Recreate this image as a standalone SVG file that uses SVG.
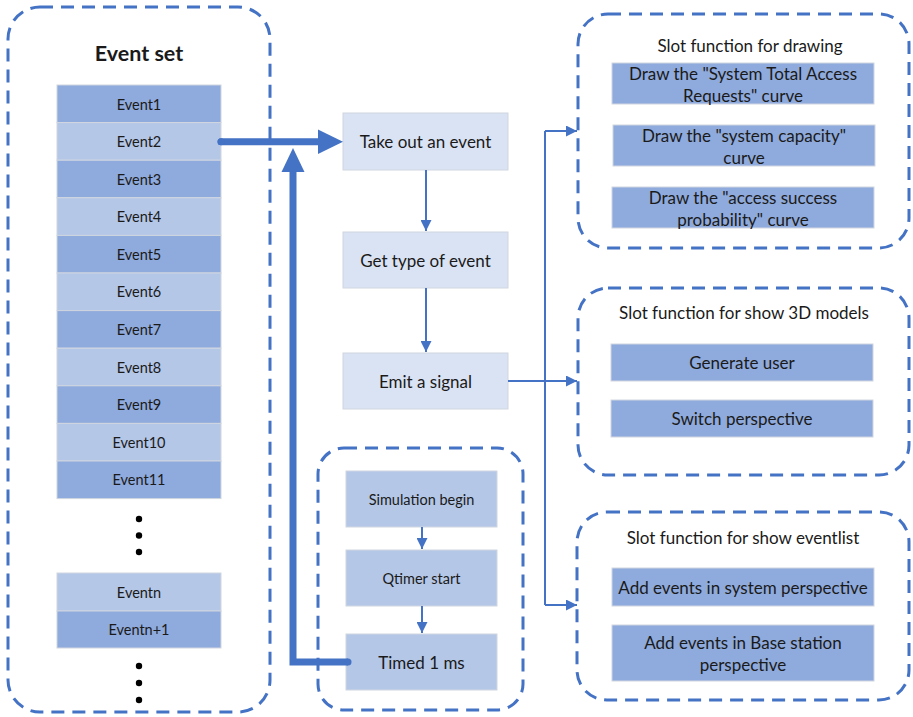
<svg xmlns="http://www.w3.org/2000/svg" width="913" height="717" viewBox="0 0 913 717">
<style>
text{font-family:Lato,"Open Sans","Noto Sans",sans-serif;fill:#1a1a1a;text-anchor:middle;dominant-baseline:central}
.grp{fill:none;stroke:#4472C4;stroke-width:3;stroke-dasharray:13 8}
.dk{fill:#8FAADC;stroke:#D0D6E0;stroke-width:1}
.lt{fill:#B4C7E7;stroke:#D0D6E0;stroke-width:1}
.pl{fill:#DAE3F3;stroke:#D0D6E0;stroke-width:1}
.ev{font-size:14.5px}
.md{font-size:17px}
.tt{font-size:17px}
.th{stroke:#4472C4;stroke-width:2;fill:none}
.tk{stroke:#4472C4;stroke-width:7;fill:none;stroke-linecap:round}
</style>
<defs>
<marker id="ahb" viewBox="0 0 10 10" refX="10" refY="5" markerWidth="5.5" markerHeight="5.5" orient="auto" markerUnits="strokeWidth"><path d="M0,0L10,5L0,10z" fill="#4472C4"/></marker>
</defs>
<g id="eventset">
<rect class="grp" x="8" y="7" width="262" height="705" rx="32"/>
<text x="139" y="53" style="font-size:21.5px;font-weight:bold">Event set</text>
<rect class="dk" x="57" y="85" width="164" height="37.6"/><text class="ev" x="139" y="104">Event1</text>
<rect class="lt" x="57" y="122.6" width="164" height="37.6"/><text class="ev" x="139" y="141.5">Event2</text>
<rect class="dk" x="57" y="160.2" width="164" height="37.6"/><text class="ev" x="139" y="179">Event3</text>
<rect class="lt" x="57" y="197.8" width="164" height="37.6"/><text class="ev" x="139" y="216.6">Event4</text>
<rect class="dk" x="57" y="235.4" width="164" height="37.6"/><text class="ev" x="139" y="254.2">Event5</text>
<rect class="lt" x="57" y="273" width="164" height="37.6"/><text class="ev" x="139" y="291.8">Event6</text>
<rect class="dk" x="57" y="310.6" width="164" height="37.6"/><text class="ev" x="139" y="329.4">Event7</text>
<rect class="lt" x="57" y="348.2" width="164" height="37.6"/><text class="ev" x="139" y="367">Event8</text>
<rect class="dk" x="57" y="385.8" width="164" height="37.6"/><text class="ev" x="139" y="404.6">Event9</text>
<rect class="lt" x="57" y="423.4" width="164" height="37.6"/><text class="ev" x="139" y="442.2">Event10</text>
<rect class="dk" x="57" y="461" width="164" height="37.6"/><text class="ev" x="139" y="479.8">Event11</text>
<circle cx="139" cy="519" r="3.2" fill="#000"/><circle cx="139" cy="535.5" r="3.2" fill="#000"/><circle cx="139" cy="552" r="3.2" fill="#000"/>
<rect class="lt" x="57" y="573" width="164" height="38"/><text class="ev" x="139" y="592">Eventn</text>
<rect class="dk" x="57" y="611" width="164" height="37"/><text class="ev" x="139" y="629.5">Eventn+1</text>
<circle cx="139" cy="666" r="3.2" fill="#000"/><circle cx="139" cy="683" r="3.2" fill="#000"/><circle cx="139" cy="700" r="3.2" fill="#000"/>
</g>
<g id="take"><rect class="pl" x="343" y="113" width="165" height="57"/><text class="md" x="425.5" y="141.5">Take out an event</text></g>
<g id="gettype"><rect class="pl" x="343" y="232" width="165" height="56"/><text class="md" x="425.5" y="260">Get type of event</text></g>
<g id="emit"><rect class="pl" x="343" y="353" width="165" height="56"/><text class="md" x="425.5" y="381">Emit a signal</text></g>
<g id="timer">
<rect class="grp" x="318" y="448" width="205" height="262" rx="26"/>
<rect class="lt" x="346" y="471" width="151" height="56"/><text class="ev" x="421.5" y="499">Simulation begin</text>
<rect class="lt" x="346" y="550" width="151" height="56"/><text class="ev" x="421.5" y="578">Qtimer start</text>
<rect class="lt" x="346" y="634" width="151" height="56"/><text class="md" x="421.5" y="662">Timed 1 ms</text>
</g>
<g id="slotdraw">
<rect class="grp" x="578" y="14" width="331" height="234" rx="30"/>
<text class="tt" x="750" y="45">Slot function for drawing</text>
<rect class="dk" x="612" y="63" width="262" height="41"/><text class="md" x="743" y="73">Draw the "System Total Access</text><text class="md" x="743" y="95">Requests" curve</text>
<rect class="dk" x="613" y="125" width="262" height="41"/><text class="md" x="744" y="135">Draw the "system capacity"</text><text class="md" x="744" y="157">curve</text>
<rect class="dk" x="612" y="187" width="262" height="41"/><text class="md" x="743" y="197">Draw the "access success</text><text class="md" x="743" y="219">probability" curve</text>
</g>
<g id="slot3d">
<rect class="grp" x="578" y="288" width="331" height="187" rx="30"/>
<text class="tt" x="744" y="312">Slot function for show 3D models</text>
<rect class="dk" x="611" y="344" width="262" height="37"/><text class="md" x="742" y="362.5">Generate user</text>
<rect class="dk" x="611" y="400" width="262" height="37"/><text class="md" x="742" y="418.5">Switch perspective</text>
</g>
<g id="slotlist">
<rect class="grp" x="577" y="512" width="332" height="188" rx="30"/>
<text class="tt" x="743" y="537">Slot function for show eventlist</text>
<rect class="dk" x="612" y="568" width="262" height="38"/><text class="md" x="743" y="587">Add events in system perspective</text>
<rect class="dk" x="612" y="625" width="262" height="56"/><text class="md" x="743" y="642">Add events in Base station</text><text class="md" x="743" y="664">perspective</text>
</g>
<g id="connectors">
<path class="tk" d="M221,141.7H322"/>
<path d="M318,129.5L343,141.7L318,154z" fill="#4472C4"/>
<path class="tk" d="M348,662H293V172" style="stroke-linecap:butt"/>
<circle cx="348" cy="662" r="3.5" fill="#4472C4"/>
<circle cx="221" cy="141.7" r="3.5" fill="#4472C4"/>
<path d="M281.5,172L293,148L304.5,172z" fill="#4472C4"/>
<path class="th" d="M426,170V231" marker-end="url(#ahb)"/>
<path class="th" d="M426,288V352" marker-end="url(#ahb)"/>
<path class="th" d="M422,527V549" marker-end="url(#ahb)"/>
<path class="th" d="M422,606V633" marker-end="url(#ahb)"/>
<path class="th" d="M508,381H545"/>
<path class="th" d="M545,131V605"/>
<path class="th" d="M545,131H577" marker-end="url(#ahb)"/>
<path class="th" d="M545,381H577" marker-end="url(#ahb)"/>
<path class="th" d="M545,605H577" marker-end="url(#ahb)"/>
</g>
</svg>
